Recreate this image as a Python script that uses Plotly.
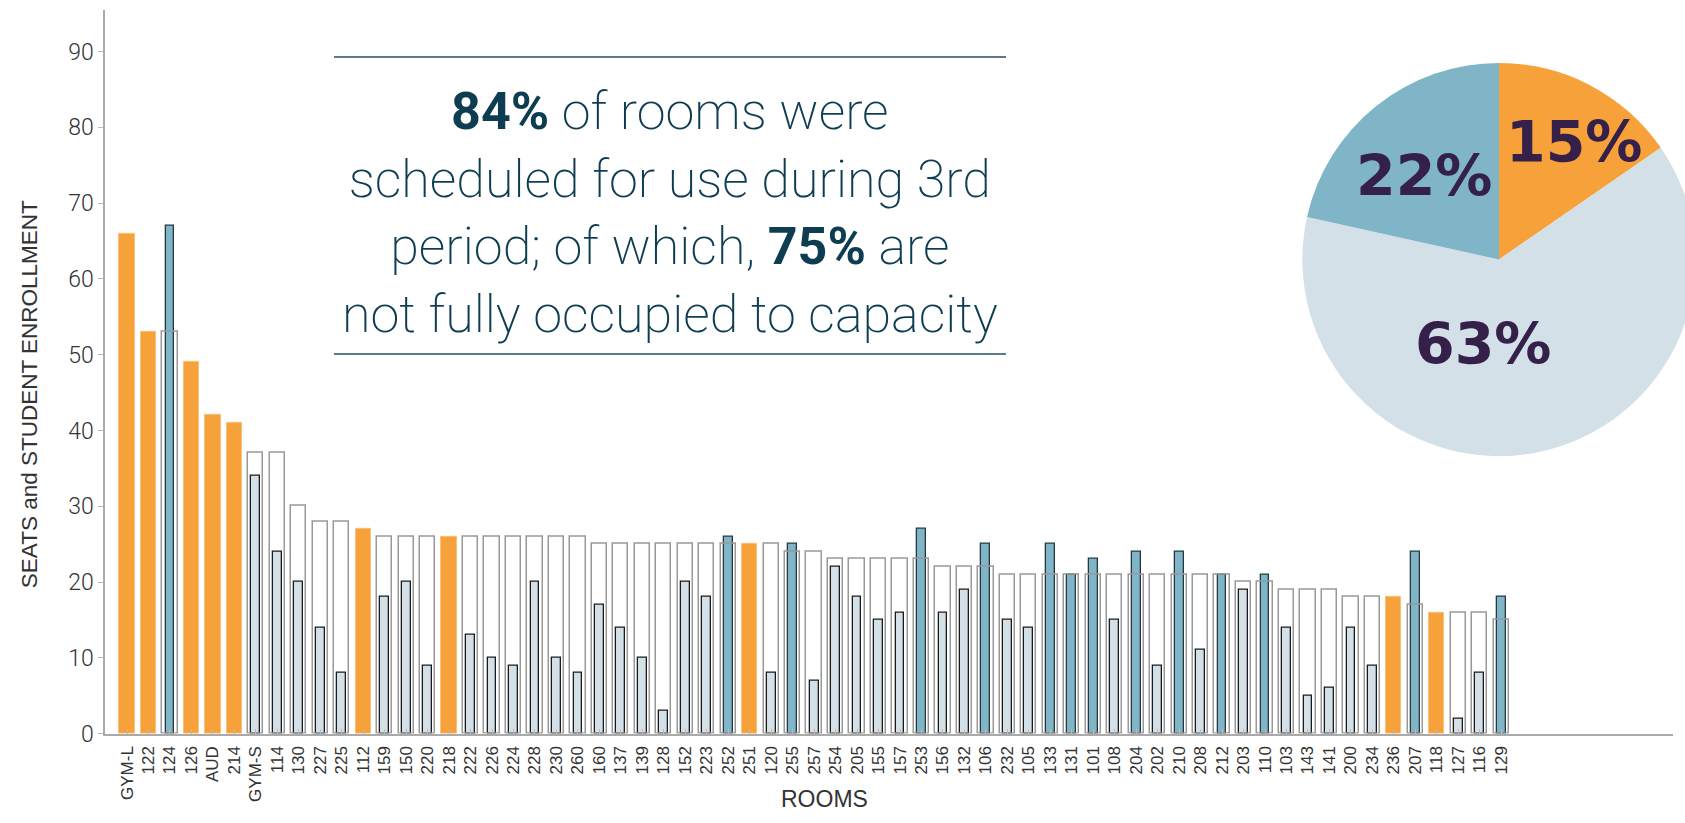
import plotly.graph_objects as go

# Room capacity (seats) and 3rd-period enrollment; None = not scheduled
rooms = ["GYM-L", "122", "124", "126", "AUD", "214", "GYM-S", "114", "130", "227",
         "225", "112", "159", "150", "220", "218", "222", "226", "224", "228",
         "230", "260", "160", "137", "139", "128", "152", "223", "252", "251",
         "120", "255", "257", "254", "205", "155", "157", "253", "156", "132",
         "106", "232", "105", "133", "131", "101", "108", "204", "202", "210",
         "208", "212", "203", "110", "103", "143", "141", "200", "234", "236",
         "207", "118", "127", "116", "129"]
seats = [66, 53, 53, 49, 42, 41, 37, 37, 30, 28,
         28, 27, 26, 26, 26, 26, 26, 26, 26, 26,
         26, 26, 25, 25, 25, 25, 25, 25, 25, 25,
         25, 24, 24, 23, 23, 23, 23, 23, 22, 22,
         22, 21, 21, 21, 21, 21, 21, 21, 21, 21,
         21, 21, 20, 20, 19, 19, 19, 18, 18, 18,
         17, 16, 16, 16, 15]
enrollment = [None, None, 67, None, None, None, 34, 24, 20, 14,
              8, None, 18, 20, 9, None, 13, 10, 9, 20,
              10, 8, 17, 14, 10, 3, 20, 18, 26, None,
              8, 25, 7, 22, 18, 15, 16, 27, 16, 19,
              25, 15, 14, 25, 21, 23, 15, 24, 9, 24,
              11, 21, 19, 21, 14, 5, 6, 14, 9, None,
              24, None, 2, 8, 18]

headline = ("<b>84%</b> of rooms were<br>scheduled for use during 3rd<br>"
            "period; of which, <b>75%</b> are<br>not fully occupied to capacity")

ORANGE = "#f7a13a"
TEAL = "#7fb5c7"
LIGHT = "#d3e0e8"
INK = "#0e3d52"
LABEL = "#35204a"

W, H = 1710, 823

unscheduled = [s if e is None else None for s, e in zip(seats, enrollment)]
scheduled_seats = [None if e is None else s for s, e in zip(seats, enrollment)]
full = [e is not None and e >= s for s, e in zip(seats, enrollment)]
enroll_colors = [TEAL if f else LIGHT for f in full]
enroll_lines = ["#233840" if f else "#1a1a1a" for f in full]

n_unsched = sum(e is None for e in enrollment)
n_full = sum(full)
n_under = len(rooms) - n_unsched - n_full
pie_labels = ["Not scheduled", "Under capacity", "At or over capacity"]
pie_values = [n_unsched, n_under, n_full]
pie_colors = [ORANGE, LIGHT, TEAL]

fig = go.Figure()

fig.add_trace(go.Bar(x=rooms, y=unscheduled, width=0.71,
                     marker=dict(color=ORANGE, line=dict(color="#f9c07a", width=1)),
                     hoverinfo="x+y"))
fig.add_trace(go.Bar(x=rooms, y=enrollment, width=0.41,
                     marker=dict(color=enroll_colors, line=dict(color=enroll_lines, width=1.3)),
                     hoverinfo="x+y"))
fig.add_trace(go.Bar(x=rooms, y=scheduled_seats, width=0.71,
                     marker=dict(color="rgba(0,0,0,0)", line=dict(color="#999999", width=1.5)),
                     hoverinfo="x+y"))

cx, cy, r = 1499, 264, 200
fig.add_trace(go.Pie(labels=pie_labels, values=pie_values, sort=False,
                     direction="clockwise", rotation=0,
                     marker=dict(colors=pie_colors, line=dict(width=0)),
                     textinfo="none", hoverinfo="label+percent", showlegend=False,
                     domain=dict(x=[(cx - r) / W, (cx + r) / W],
                                 y=[1 - (cy + r) / H, 1 - (cy - r) / H])))

# percentage labels for the pie slices
total = sum(pie_values)
pie_label_px = [(1574, 144), (1483, 350), (1424, 179)]
annotations = []
for v, (lx, ly) in zip(pie_values, pie_label_px):
    annotations.append(dict(x=lx / W, y=1 - ly / H, xref="paper", yref="paper",
                            text=f"<b>{round(100 * v / total)}%</b>", showarrow=False,
                            xanchor="center", yanchor="middle",
                            font=dict(family="DejaVu Sans", size=57, color=LABEL)))

# headline statement
annotations.append(dict(x=670 / W, y=1 - 217 / H, xref="paper", yref="paper",
                        text=headline, showarrow=False, align="center",
                        xanchor="center", yanchor="middle",
                        font=dict(family="Roboto", size=52, color=INK, weight=200)))

annotations.append(dict(x=824 / W, y=1 - 813 / H, xref="paper", yref="paper",
                        text="ROOMS", showarrow=False, xanchor="center", yanchor="middle",
                        font=dict(family="Liberation Sans", size=23, color="#333333")))
annotations.append(dict(x=29 / W, y=1 - 401 / H, xref="paper", yref="paper",
                        text="SEATS and STUDENT ENROLLMENT", showarrow=False, textangle=-90,
                        xanchor="center", yanchor="middle",
                        font=dict(family="Liberation Sans", size=22.5, color="#333333")))

shapes = [dict(type="line", xref="paper", yref="paper", x0=334 / W, x1=1006 / W,
               y0=1 - yy / H, y1=1 - yy / H, line=dict(color="#244f61", width=1.5))
          for yy in (58, 360)]

fig.update_layout(
    width=W, height=H,
    margin=dict(l=0, r=0, t=0, b=0),
    paper_bgcolor="white", plot_bgcolor="white",
    barmode="overlay", bargap=0,
    showlegend=False,
    annotations=annotations,
    shapes=shapes,
    xaxis=dict(type="category", domain=[105 / W, 1673 / W], range=[-1.025, 72.0],
               showline=True, linecolor="#aaaaaa", linewidth=1.5,
               ticks="inside", ticklen=5, tickcolor="#bbbbbb", tickangle=-90,
               ticklabelstandoff=4,
               tickfont=dict(family="Liberation Sans", size=17, color="#333333"),
               showgrid=False, zeroline=False, fixedrange=True),
    yaxis=dict(domain=[1 - 746.3 / H, 1 - 10 / H], range=[0, 95.5],
               tickmode="linear", tick0=0, dtick=10,
               showline=True, linecolor="#aaaaaa", linewidth=1.5,
               ticks="outside", ticklen=5, tickcolor="#bbbbbb",
               tickfont=dict(family="Roboto", size=23, color="#333333", weight=300),
               showgrid=False, zeroline=False, fixedrange=True),
)

fig.write_html("out.html", config=dict(displayModeBar=False),
               post_script="document.documentElement.style.overflow='hidden';"
                           "document.body.style.overflow='hidden';")
